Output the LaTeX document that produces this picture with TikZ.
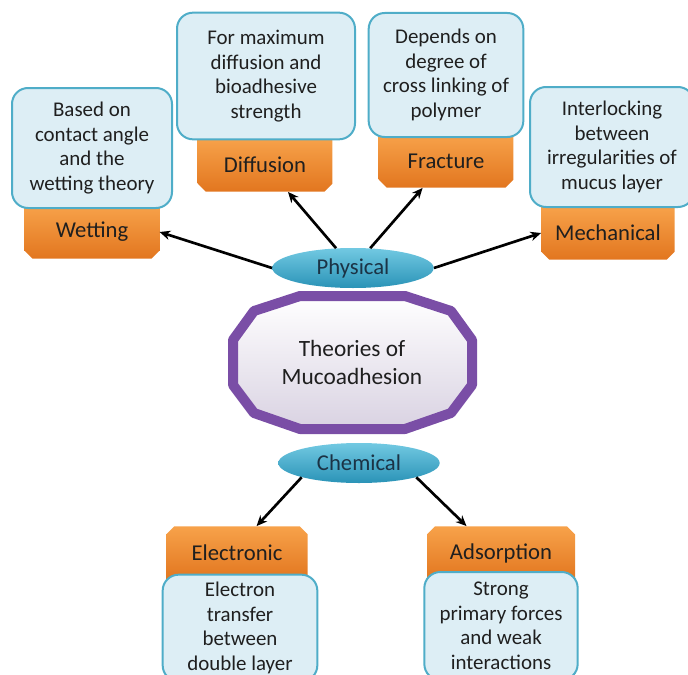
\documentclass[tikz,border=0pt]{standalone}
\usepackage{fontspec}
\setmainfont{Carlito}
\usetikzlibrary{positioning,shapes.misc,shapes.geometric,arrows.meta}
\definecolor{noteblue}{HTML}{DDEEF5}
\definecolor{noteline}{HTML}{4FADC8}
\definecolor{orangetop}{HTML}{F7A24A}
\definecolor{orangebot}{HTML}{E2761F}
\definecolor{tealtop}{HTML}{72C9E2}
\definecolor{tealbot}{HTML}{2A93B7}
\definecolor{octline}{HTML}{7A4EA6}
\definecolor{octfill}{HTML}{D9D2E2}
\definecolor{ink}{HTML}{1F1F1F}
\definecolor{navy}{HTML}{1B3345}

\begin{document}
\begin{tikzpicture}[x=0.75pt, y=-0.75pt, >={Stealth[length=8pt,width=7pt]},
    note/.style={draw=noteline, line width=1.5pt, fill=noteblue, rounded corners=12pt,
        align=center, text=ink, inner sep=0pt, font=\fontsize{15.7}{18.4}\selectfont},
    theory/.style={chamfered rectangle, chamfered rectangle xsep=3pt, chamfered rectangle ysep=3pt,
        top color=orangetop, bottom color=orangebot, text=ink, inner sep=0pt,
        minimum height=40pt, font=\fontsize{17}{20}\selectfont},
    uptheory/.style={theory, chamfered rectangle corners={south west,south east}},
    downtheory/.style={theory, chamfered rectangle corners={north west,north east}},
    kind/.style={ellipse, top color=tealtop, bottom color=tealbot, text=navy,
        minimum width=121pt, minimum height=30pt, font=\fontsize{17}{20}\selectfont},
    link/.style={->, line width=2pt}]
    \clip (0,0) rectangle (688,674);

    % centre
    \draw [line width=7.5pt, draw=octline, top color=white, bottom color=octfill, line join=round]
        (300,296) -- (405,296) -- (451,311) -- (472,340) -- (472,385) -- (451,413)
        -- (405,429) -- (300,429) -- (254,413) -- (233,385) -- (233,340) -- (254,311) -- cycle;
    \node [align=center, text=ink, font=\fontsize{17.5}{21}\selectfont] (theories) at (352,362) {Theories of\\Mucoadhesion};

    \node [kind] (physical) at (353,268) {Physical};
    \node [kind] (chemical) at (359,463) {Chemical};

    % physical theories
    \node [uptheory, minimum width=101pt] (wetting) at (92,232) {Wetting};
    \node [note, minimum width=120pt, minimum height=90pt] (wetnote) at (92,148) {Based on\\contact angle\\and the\\wetting theory};
    \node [uptheory, minimum width=101pt] (diffusion) at (265,165) {Diffusion};
    \node [note, minimum width=133.5pt, minimum height=95pt] (diffnote) at (266,76) {For maximum\\diffusion and\\bioadhesive\\strength};
    \node [uptheory, minimum width=101pt] (fracture) at (446,161) {Fracture};
    \node [note, minimum width=116pt, minimum height=93pt] (fracnote) at (446,75) {Depends on\\degree of\\cross linking of\\polymer};
    \node [uptheory, minimum width=100pt] (mechanical) at (608,233) {Mechanical};
    \node [note, minimum width=123pt, minimum height=90pt] (mechnote) at (612,147) {Interlocking\\between\\irregularities of\\mucus layer};

    % chemical theories
    \node [downtheory, minimum width=106pt] (electronic) at (237,553) {Electronic};
    \node [note, minimum width=116pt, minimum height=80pt] (elecnote) at (240,628) {Electron\\transfer\\between\\double layer};
    \node [downtheory, minimum width=111pt] (adsorption) at (501,553) {Adsorption};
    \node [note, minimum width=115pt, minimum height=81pt] (adsnote) at (501,626) {Strong\\primary forces\\and weak\\interactions};

    \draw [link] (physical.west) -- (wetting.east);
    \draw [link] (physical) -- (diffusion);
    \draw [link] (physical) -- (fracture);
    \draw [link] (physical.east) -- (mechanical.west);
    \draw [link] (chemical.194) -- (electronic.54);
    \draw [link] (chemical.346) -- (adsorption.142);
\end{tikzpicture}
\end{document}
